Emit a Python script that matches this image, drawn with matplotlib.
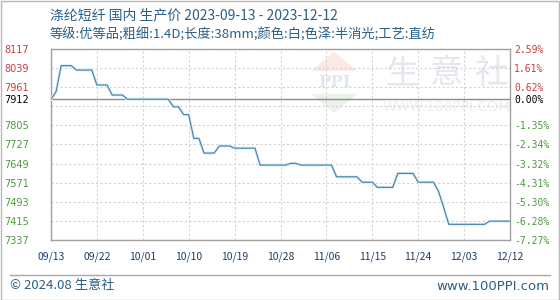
import pandas as pd
import matplotlib.dates as mdates
from matplotlib import pyplot as plt
from matplotlib.patches import Polygon, Rectangle

plt.rcParams['font.family'] = ['Noto Sans CJK SC', 'DejaVu Sans']

# Price data (CNY/t) at the points where it changes
dates = ["2023-09-13", "2023-09-14", "2023-09-15", "2023-09-17", "2023-09-18",
         "2023-09-21", "2023-09-22", "2023-09-24", "2023-09-25", "2023-09-27",
         "2023-09-28", "2023-10-06", "2023-10-07", "2023-10-08", "2023-10-09",
         "2023-10-10", "2023-10-11", "2023-10-12", "2023-10-13", "2023-10-15",
         "2023-10-16", "2023-10-18", "2023-10-19", "2023-10-23", "2023-10-24",
         "2023-10-29", "2023-10-30", "2023-10-31", "2023-11-01", "2023-11-07",
         "2023-11-08", "2023-11-12", "2023-11-13", "2023-11-15", "2023-11-16",
         "2023-11-19", "2023-11-20", "2023-11-23", "2023-11-24", "2023-11-27",
         "2023-11-28", "2023-11-29", "2023-11-30", "2023-12-07", "2023-12-08",
         "2023-12-12"]
prices = [7912, 7943, 8049, 8049, 8031,
          8031, 7970, 7970, 7929, 7929,
          7912, 7912, 7881, 7881, 7849,
          7849, 7752, 7752, 7692, 7692,
          7721, 7721, 7712, 7712, 7643,
          7643, 7650, 7650, 7643, 7643,
          7595, 7595, 7573, 7573, 7552,
          7552, 7609, 7609, 7573, 7573,
          7535, 7470, 7401, 7401, 7414,
          7414]

base_price = 7912
y_ticks = [8117, 8039, 7961, 7912, 7805, 7727, 7649, 7571, 7493, 7415, 7337]
pct_labels = ["2.59%", "1.61%", "0.62%", "0.00%", "-1.35%", "-2.34%",
              "-3.32%", "-4.31%", "-5.30%", "-6.28%", "-7.27%"]
grid_levels = [8117, 8039, 7961, 7883, 7805, 7727, 7649, 7571, 7493, 7415, 7337]
x_ticks = ["2023-09-13", "2023-09-22", "2023-10-01", "2023-10-10", "2023-10-19",
           "2023-10-28", "2023-11-06", "2023-11-15", "2023-11-24", "2023-12-03",
           "2023-12-12"]

title = "涤纶短纤 国内 生产价 2023-09-13 - 2023-12-12"
subtitle = "等级:优等品;粗细:1.4D;长度:38mm;颜色:白;色泽:半消光;工艺:直纺"

W, H = 560, 300
fig = plt.figure(figsize=(5.6, 3.0), dpi=100)
fig.patch.set_facecolor("white")

ax = fig.add_axes([51 / W, 60 / H, 459 / W, 191 / H])
x = pd.to_datetime(dates)
xt = pd.to_datetime(x_ticks)

# watermark (behind the data)
wm = dict(transform=ax.transAxes, zorder=0)
ax.add_patch(Polygon([[0.567, 0.885], [0.667, 0.885], [0.617, 0.985]],
                     closed=True, fc="#fbe9e6", ec="none", **wm))
ax.add_patch(Polygon([[0.567, 0.765], [0.667, 0.765], [0.617, 0.665]],
                     closed=True, fc="#e9f4e8", ec="none", **wm))
ax.text(0.617, 0.825, "PPI", ha="center", va="center", fontsize=12,
        color="#e2e7ef", fontweight="bold", family="DejaVu Serif", **wm)
for xc, ch in zip([0.764, 0.861, 0.959], "生意社"):
    ax.text(xc, 0.87, ch, ha="center", va="center",
            fontsize=24, color="#e4e7ee", **wm)
ax.text(0.861, 0.696, "WWW.100PPI.COM", ha="center", va="center", fontsize=10,
        color="#eeeeee", family="DejaVu Sans", **wm)

# grid
for lv in grid_levels:
    ax.axhline(lv, color="#d2d2d2", lw=0.8, ls=(0, (2, 2)), zorder=1)
for d in xt:
    ax.axvline(d, color="#d2d2d2", lw=0.8, ls=(0, (2, 2)), zorder=1)
ax.axhline(base_price, color="#8c8c8c", lw=1.0, zorder=2)

ax.plot(x, prices, color="#e2f1f9", lw=2.2, zorder=3)
ax.plot(x, prices, color="#4b86ad", lw=0.9, zorder=4)

ax.set_xlim(xt[0], xt[-1])
ax.set_ylim(grid_levels[-1], grid_levels[0])
for s in ax.spines.values():
    s.set_color("#a0a0a0")
    s.set_linewidth(1.0)

ax.set_xticks(xt)
ax.xaxis.set_major_formatter(mdates.DateFormatter("%m/%d"))
ax.tick_params(axis="x", length=0, pad=8, labelsize=7.5, labelcolor="#1e3f66")

def lab_color(v):
    if v > base_price:
        return "#cc3b3b"
    if v < base_price:
        return "#4c9a3c"
    return "black"

ax.set_yticks(y_ticks)
ax.set_yticklabels([str(v) for v in y_ticks], fontsize=7, family="DejaVu Sans")
ax.tick_params(axis="y", length=0, pad=16)
for t, v in zip(ax.get_yticklabels(), y_ticks):
    t.set_color(lab_color(v))

ax2 = ax.twinx()
ax2.set_ylim(ax.get_ylim())
ax2.set_yticks(y_ticks)
ax2.set_yticklabels(pct_labels, fontsize=7, family="DejaVu Sans Mono")
ax2.tick_params(axis="y", length=0, pad=3)
for t, v in zip(ax2.get_yticklabels(), y_ticks):
    t.set_color(lab_color(v))
for s in ax2.spines.values():
    s.set_visible(False)

# header and footer
fig.text(50 / W, 1 - 15 / H, title, fontsize=10, color="#2b5f86", va="center")
fig.text(50 / W, 1 - 35 / H, subtitle, fontsize=9.5, color="#2b5f86", va="center")
fig.add_artist(plt.Line2D([10 / W, 550 / W], [1 - 275 / H, 1 - 275 / H],
                          color="#a8a8a8", lw=1.0))
fig.text(10 / W, 1 - 286 / H, "© 2024.08 生意社", fontsize=9.5, color="#2b5f86",
         va="center")
fig.text(549 / W, 1 - 286 / H, "www.100PPI.com", fontsize=9.5, color="#2b5f86",
         va="center", ha="right", family="DejaVu Sans")
fig.add_artist(Rectangle((0.5 / W, 0.5 / H), 1 - 1.5 / W, 1 - 1.5 / H,
                         transform=fig.transFigure, fill=False,
                         ec="#b8b8b8", lw=1.0))

fig.savefig("out.png", dpi=100)
plt.close(fig)
